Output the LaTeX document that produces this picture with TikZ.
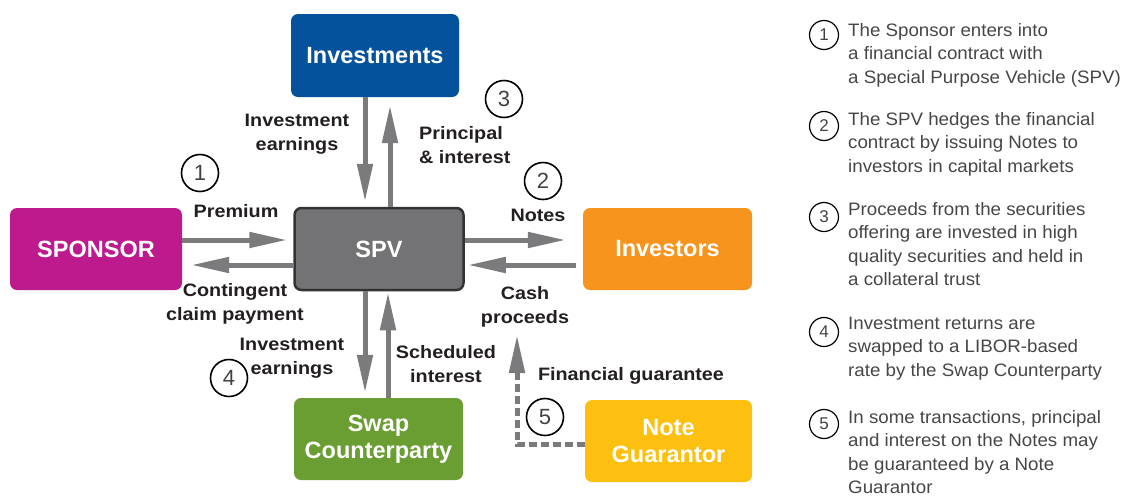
\documentclass[tikz,border=0pt]{standalone}
\usepackage{fontspec}
\setmainfont{Liberation Sans}
\newfontfamily\lblfont[FakeStretch=1.1]{Liberation Sans}
\newfontfamily\notefont[FakeStretch=1.04]{Liberation Sans}
\usetikzlibrary{arrows.meta}
\definecolor{cblue}{RGB}{4,82,155}
\definecolor{cmag}{RGB}{189,26,141}
\definecolor{cspv}{RGB}{115,115,117}
\definecolor{corange}{RGB}{247,148,29}
\definecolor{cgreen}{RGB}{106,158,50}
\definecolor{cyellow}{RGB}{253,191,16}
\definecolor{carrow}{RGB}{123,123,125}
\definecolor{ctext}{RGB}{35,31,32}
\definecolor{cnote}{RGB}{70,70,70}
\tikzset{
  box/.style={rounded corners=7pt, text=white, align=center, inner sep=0pt,
    minimum width=169pt, minimum height=82pt,
    font=\fontsize{23.5}{27.5}\selectfont\bfseries},
  arr/.style={draw=carrow, line width=5pt, -{Triangle[length=38pt,width=15pt]}},
  lbl/.style={text=ctext, align=center, inner sep=0pt,
    font=\lblfont\bfseries\fontsize{18}{24}\selectfont},
  num/.style={circle, draw=black, line width=1.6pt, minimum size=37pt, inner sep=0pt,
    font=\fontsize{22}{22}\selectfont, text=ctext!85},
  snum/.style={circle, draw=black, line width=1.2pt, minimum size=29pt, inner sep=0pt,
    font=\fontsize{17}{17}\selectfont, text=ctext!85},
  note/.style={anchor=north west, align=left, inner sep=0pt, text=cnote,
    font=\notefont\fontsize{18}{23.5}\selectfont},
}
\begin{document}
\begin{tikzpicture}[x=1pt,y=-1pt]
\useasboundingbox (0,0) rectangle (1132,496);
% boxes
\node[box, fill=cblue, minimum width=168pt, minimum height=83pt] (inv) at (375,55.5) {Investments};
\node[box, fill=cmag, minimum width=172pt] (spon) at (96,249) {SPONSOR};
\node[box, fill=cspv, draw=black!80, line width=2.5pt, minimum width=169pt, minimum height=82pt] (spv) at (379,249) {SPV};
\node[box, fill=corange] (invs) at (667.5,249) {Investors};
\node[box, fill=cgreen] (swap) at (378.5,439) {Swap\\Counterparty};
\node[box, fill=cyellow, minimum width=167pt] (ng) at (668.5,441) {Note\\Guarantor};
% helper coordinates
\coordinate (xa) at (365,0);
\coordinate (xb) at (390,0);
\coordinate (xc) at (388,0);
\coordinate (ya) at (0,240);
\coordinate (yb) at (0,265);
\coordinate (gcorner) at (517,444);
\coordinate (gtip) at (517,335);
% arrows
\draw[arr, shorten >=6pt] (spon.east |- ya) -- (spv.west |- ya);
\draw[arr, shorten >=9pt] (spv.west |- yb) -- (spon.east |- yb);
\draw[arr, shorten >=17pt] (spv.east |- ya) -- (invs.west |- ya);
\draw[arr, shorten <=7pt, shorten >=3pt] (invs.west |- yb) -- (spv.east |- yb);
\draw[arr, shorten >=5pt] (inv.south -| xa) -- (spv.north -| xa);
\draw[arr, shorten >=8pt] (spv.north -| xb) -- (inv.south -| xb);
\draw[arr, shorten >=5pt] (spv.south -| xa) -- (swap.north -| xa);
\draw[arr, shorten >=1pt] (swap.north -| xc) -- (spv.south -| xc);
\draw[arr, dash pattern=on 8pt off 4pt] (ng.west |- gcorner) -- (gcorner) -- (gtip);
% labels
\node[lbl] (l1) at (297,134) {Investment\\earnings};
\node[lbl, align=left, anchor=west] (l2) at (419,145) {Principal\\\& interest};
\node[lbl] (l3) at (236,211) {Premium};
\node[lbl] (l4) at (538,215) {Notes};
\node[lbl] (l5) at (235,304) {Contingent\\claim payment};
\node[lbl] (l6) at (525,307) {Cash\\proceeds};
\node[lbl] (l7) at (292,358) {Investment\\earnings};
\node[lbl] (l8) at (446,364) {Scheduled\\interest};
\node[lbl] (l9) at (631,376) {Financial guarantee};
% circled numbers
\node[num] (n1) at (200,173) {1};
\node[num] (n3) at (504,99) {3};
\node[num] (n2) at (543,181) {2};
\node[num] (n4) at (229,378) {4};
\node[num] (n5) at (545,417) {5};
% notes on the right
\node[snum] (s1) at (824,35) {1};
\node[snum] (s2) at (824,126) {2};
\node[snum] (s3) at (824,217) {3};
\node[snum] (s4) at (824,332) {4};
\node[snum] (s5) at (824,424) {5};
\node[note] (t1) at (848,19.5) {\strut The Sponsor enters into\\a financial contract with\\a Special Purpose Vehicle (SPV)};
\node[note] (t2) at (848,108.5) {\strut The SPV hedges the financial\\contract by issuing Notes to\\investors in capital markets};
\node[note] (t3) at (848,198.5) {\strut Proceeds from the securities\\offering are invested in high\\quality securities and held in\\a collateral trust};
\node[note] (t4) at (848,312.5) {\strut Investment returns are\\swapped to a LIBOR-based\\rate by the Swap Counterparty};
\node[note] (t5) at (848,406.5) {\strut In some transactions, principal\\and interest on the Notes may\\be guaranteed by a Note\\Guarantor};
\end{tikzpicture}
\end{document}
